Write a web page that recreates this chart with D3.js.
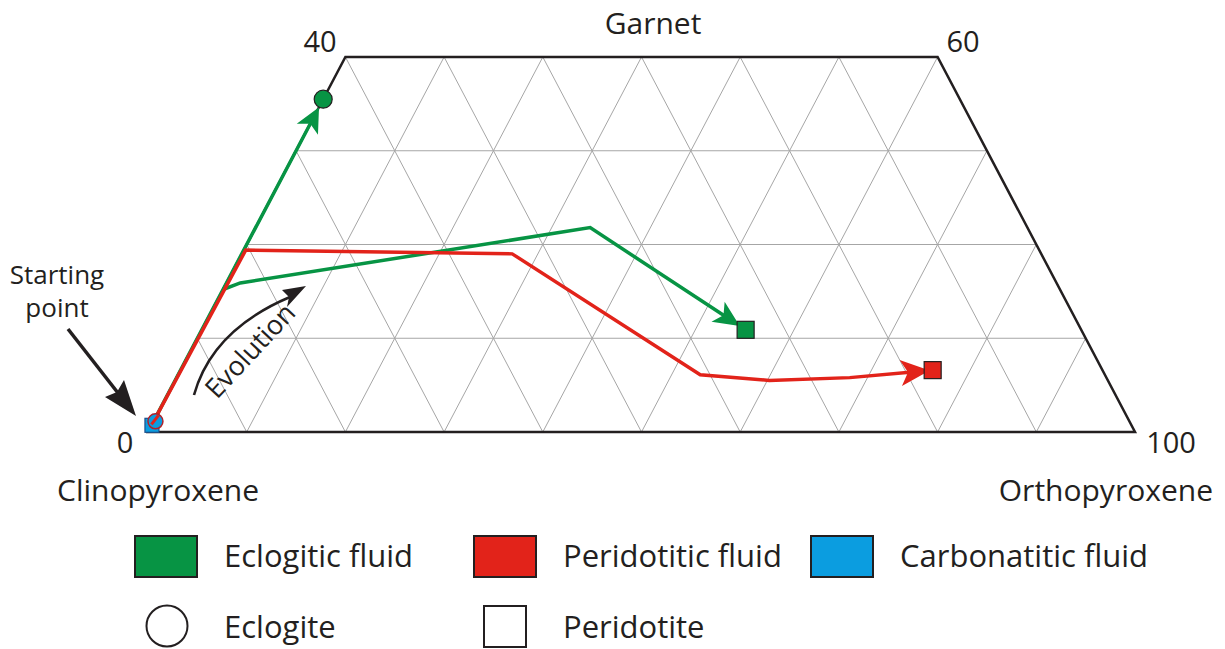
<!DOCTYPE html>
<html>
<head>
<meta charset="utf-8">
<script src="https://cdn.jsdelivr.net/npm/d3@7"></script>
<style>
  html, body { margin: 0; padding: 0; background: #ffffff; }
  svg { display: block; }
  text { font-family: "Open Sans", "Noto Sans", sans-serif; fill: #231f20; }
</style>
</head>
<body>
<svg id="chart" width="1225" height="649"></svg>
<script>
// ---------------- DATA (ternary: G = garnet %, Opx = orthopyroxene %) ----------------
const cornerLabels = ["0", "100", "40", "60"];
const apexLabel = "Garnet";
const baseLeftLabel = "Clinopyroxene";
const baseRightLabel = "Orthopyroxene";
const gridGarnet = [10, 20, 30];
const gridOpx = [10, 20, 30, 40, 50, 60, 70, 80, 90];
const gridCpx = [10, 20, 30, 40, 50, 60, 70, 80, 90];

// Eclogitic fluid path toward eclogite (circle)
const eclToEclogiteG   = [0.7, 15.2, 35.5];
const eclToEclogiteOpx = [0.0, 0.0, 0.0];
// Eclogitic fluid path toward peridotite (square)
const eclToPeridotiteG   = [15.2, 15.9, 21.8, 10.9];
const eclToPeridotiteOpx = [0.0, 1.4, 33.9, 55.1];
// Peridotitic fluid path toward peridotite (square)
const perToPeridotiteG   = [0.7, 19.4, 19.0, 6.1, 5.5, 5.8, 6.6];
const perToPeridotiteOpx = [0.0, 0.2, 27.4, 52.9, 60.2, 68.2, 76.2];
// Starting point (carbonatitic fluid)
const startG = 0.5, startOpx = 0.1;

const legendFluids = ["Eclogitic fluid", "Peridotitic fluid", "Carbonatitic fluid"];
const legendRocks = ["Eclogite", "Peridotite"];

// ---------------- STYLE / LAYOUT ----------------
const GREEN = "#079444", RED = "#e2231a", BLUE = "#0b9de0", INK = "#231f20", GRID = "#a6a6a6";
const svg = d3.select("#chart");

const xBase = d3.scaleLinear().domain([0, 100]).range([148, 1135]);
const yG = d3.scaleLinear().domain([0, 40]).range([432, 57]);
const P = (g, opx) => [xBase(opx + g / 2), yG(g)];

// grid
const gridG = svg.append("g").attr("stroke", GRID).attr("stroke-width", 1).attr("fill", "none");
gridGarnet.forEach(g => {
  const a = P(g, 0), b = P(g, 100 - g);
  gridG.append("line").attr("x1", a[0]).attr("y1", a[1]).attr("x2", b[0]).attr("y2", b[1]);
});
gridOpx.forEach(o => {
  const gmax = Math.min(40, 100 - o);
  const a = P(0, o), b = P(gmax, o);
  gridG.append("line").attr("x1", a[0]).attr("y1", a[1]).attr("x2", b[0]).attr("y2", b[1]);
});
gridCpx.forEach(c => {
  const gmax = Math.min(40, 100 - c);
  const a = P(0, 100 - c), b = P(gmax, 100 - c - gmax);
  gridG.append("line").attr("x1", a[0]).attr("y1", a[1]).attr("x2", b[0]).attr("y2", b[1]);
});

// outline
const outline = [P(0, 0), P(40, 0), P(40, 60), P(0, 100)];
svg.append("path").attr("d", d3.line()(outline) + "Z")
  .attr("fill", "none").attr("stroke", INK).attr("stroke-width", 2.5).attr("stroke-linejoin", "miter");

// paths
const line = d3.line();
function pts(G, O) { return G.map((g, i) => P(g, O[i])); }
function arrowHead(points, back, len, half, color) {
  const n = points.length;
  const [x1, y1] = points[n - 2], [x2, y2] = points[n - 1];
  const dx = x2 - x1, dy = y2 - y1, L = Math.hypot(dx, dy);
  const ux = dx / L, uy = dy / L;
  const tx = x2 - ux * back, ty = y2 - uy * back;
  const bx = tx - ux * len, by = ty - uy * len;
  svg.append("path")
    .attr("d", d3.line()([[tx, ty], [bx - uy * half, by + ux * half], [bx + ux * len * 0.25, by + uy * len * 0.25], [bx + uy * half, by - ux * half]]) + "Z")
    .attr("fill", color);
}
function drawPath(points, back, len, half, color) {
  const n = points.length;
  const [x1, y1] = points[n - 2], [x2, y2] = points[n - 1];
  const L = Math.hypot(x2 - x1, y2 - y1);
  const cut = back + len * 0.5;
  const trimmed = points.slice(0, n - 1).concat([[x2 - (x2 - x1) / L * cut, y2 - (y2 - y1) / L * cut]]);
  svg.append("path").attr("d", line(trimmed)).attr("fill", "none")
    .attr("stroke", color).attr("stroke-width", 3.5).attr("stroke-linejoin", "miter");
  arrowHead(points, back, len, half, color);
}

const pEcl1 = pts(eclToEclogiteG, eclToEclogiteOpx);
const pEcl2 = pts(eclToPeridotiteG, eclToPeridotiteOpx);
const pPer = pts(perToPeridotiteG, perToPeridotiteOpx);

drawPath(pEcl1, 9, 25, 12, GREEN);
drawPath(pEcl2, 7, 26, 12, GREEN);
drawPath(pPer, 3, 29, 13, RED);

// end markers
const eEnd = pEcl1[pEcl1.length - 1];
svg.append("circle").attr("cx", eEnd[0]).attr("cy", eEnd[1]).attr("r", 9)
  .attr("fill", GREEN).attr("stroke", INK).attr("stroke-width", 1.2);
const gSq = pEcl2[pEcl2.length - 1];
svg.append("rect").attr("x", gSq[0] - 8.5).attr("y", gSq[1] - 8.5).attr("width", 17).attr("height", 17)
  .attr("fill", GREEN).attr("stroke", INK).attr("stroke-width", 1.2);
const rSq = pPer[pPer.length - 1];
svg.append("rect").attr("x", rSq[0] - 8.5).attr("y", rSq[1] - 8.5).attr("width", 17).attr("height", 17)
  .attr("fill", RED).attr("stroke", INK).attr("stroke-width", 1.2);

// starting point markers
const sp = P(startG, startOpx);
svg.append("rect").attr("x", sp[0] - 6.5).attr("y", sp[1] - 9).attr("width", 14).attr("height", 14)
  .attr("fill", BLUE).attr("stroke", "#1d4f8a").attr("stroke-width", 1.2);
svg.append("circle").attr("cx", sp[0] + 4).attr("cy", sp[1] - 6).attr("r", 7.5)
  .attr("fill", BLUE).attr("stroke", "#b0222a").attr("stroke-width", 1.5);
svg.append("line").attr("x1", sp[0]).attr("y1", sp[1] - 3).attr("x2", sp[0] + 7).attr("y2", sp[1] - 12)
  .attr("stroke", RED).attr("stroke-width", 3);

// corner and axis labels
svg.append("text").attr("x", 653).attr("y", 34).attr("text-anchor", "middle").attr("font-size", 30).text(apexLabel);
svg.append("text").attr("x", 320).attr("y", 52).attr("text-anchor", "middle").attr("font-size", 29).text(cornerLabels[2]);
svg.append("text").attr("x", 963).attr("y", 52).attr("text-anchor", "middle").attr("font-size", 29).text(cornerLabels[3]);
svg.append("text").attr("x", 125).attr("y", 453).attr("text-anchor", "middle").attr("font-size", 29).text(cornerLabels[0]);
svg.append("text").attr("x", 1171).attr("y", 453).attr("text-anchor", "middle").attr("font-size", 29).text(cornerLabels[1]);
svg.append("text").attr("x", 57).attr("y", 501).attr("font-size", 30).text(baseLeftLabel);
svg.append("text").attr("x", 1213).attr("y", 501).attr("text-anchor", "end").attr("font-size", 30).text(baseRightLabel);

// Starting point annotation
svg.append("text").attr("x", 57).attr("y", 284).attr("text-anchor", "middle").attr("font-size", 26).text("Starting");
svg.append("text").attr("x", 57).attr("y", 317).attr("text-anchor", "middle").attr("font-size", 26).text("point");
svg.append("line").attr("x1", 68).attr("y1", 329).attr("x2", 118).attr("y2", 393)
  .attr("stroke", INK).attr("stroke-width", 3.5);
svg.append("path").attr("d", "M136,416 L105,397 L117,392 L124,380 Z").attr("fill", INK);

// Evolution curved arrow
svg.append("path").attr("d", "M194,395 Q212,330 290,297").attr("fill", "none")
  .attr("stroke", INK).attr("stroke-width", 2.6);
svg.append("path").attr("d", "M306,286 L282,290 L289,297 L287,307 Z").attr("fill", INK);
svg.append("text").attr("transform", "translate(257,357) rotate(-47)")
  .attr("text-anchor", "middle").attr("font-size", 27).text("Evolution");

// Legend
const fluidColors = [GREEN, RED, BLUE];
const fluidX = [135, 474, 811];
legendFluids.forEach((t, i) => {
  svg.append("rect").attr("x", fluidX[i]).attr("y", 536).attr("width", 62).attr("height", 41)
    .attr("fill", fluidColors[i]).attr("stroke", INK).attr("stroke-width", 2);
  svg.append("text").attr("x", fluidX[i] + 89).attr("y", 567).attr("font-size", 31).text(t);
});
svg.append("circle").attr("cx", 167).attr("cy", 626).attr("r", 20.5)
  .attr("fill", "#fff").attr("stroke", INK).attr("stroke-width", 2);
svg.append("text").attr("x", 224).attr("y", 638).attr("font-size", 31).text(legendRocks[0]);
svg.append("rect").attr("x", 484).attr("y", 606).attr("width", 42).attr("height", 41)
  .attr("fill", "#fff").attr("stroke", INK).attr("stroke-width", 2);
svg.append("text").attr("x", 563).attr("y", 638).attr("font-size", 31).text(legendRocks[1]);
</script>
</body>
</html>
